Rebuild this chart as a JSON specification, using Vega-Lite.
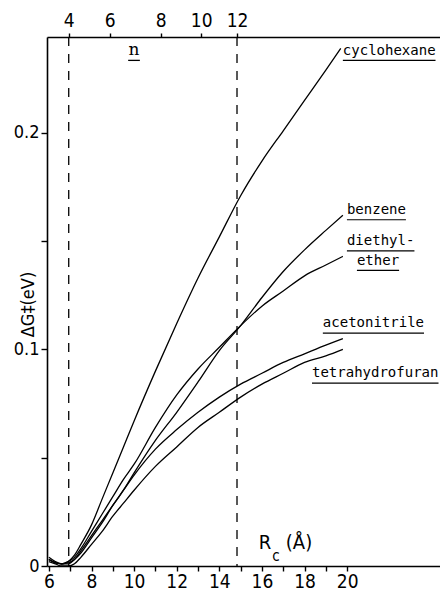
{
  "$schema": "https://vega.github.io/schema/vega-lite/v6.json",
  "width": 393,
  "height": 529,
  "autosize": {"type": "none"},
  "padding": {"left": 47, "top": 37, "right": 0, "bottom": 26},
  "background": "white",
  "config": {
    "view": {"stroke": null},
    "font": "Liberation Sans Narrow, DejaVu Sans Condensed, DejaVu Sans, sans-serif",
    "axis": {
      "grid": false,
      "domainColor": "black",
      "tickColor": "black",
      "labelColor": "black",
      "titleColor": "black",
      "domainWidth": 1.6,
      "tickWidth": 1.4,
      "labelFont": "Liberation Sans Narrow, DejaVu Sans Condensed, DejaVu Sans, sans-serif",
      "titleFont": "Liberation Sans Narrow, DejaVu Sans Condensed, DejaVu Sans, sans-serif",
      "labelFontSize": 19,
      "labelFontWeight": "normal",
      "titleFontWeight": "normal"
    }
  },
  "datasets": {
    "curves": [
      {"s": "cyclohexane", "x": 6.0, "y": 0.004},
      {"s": "cyclohexane", "x": 6.3, "y": 0.002},
      {"s": "cyclohexane", "x": 6.6, "y": 0.001},
      {"s": "cyclohexane", "x": 6.9, "y": 0.002},
      {"s": "cyclohexane", "x": 7.2, "y": 0.005},
      {"s": "cyclohexane", "x": 7.5, "y": 0.010},
      {"s": "cyclohexane", "x": 8.0, "y": 0.019},
      {"s": "cyclohexane", "x": 8.5, "y": 0.031},
      {"s": "cyclohexane", "x": 9.0, "y": 0.043},
      {"s": "cyclohexane", "x": 9.5, "y": 0.055},
      {"s": "cyclohexane", "x": 10.0, "y": 0.067},
      {"s": "cyclohexane", "x": 11.0, "y": 0.090},
      {"s": "cyclohexane", "x": 12.0, "y": 0.112},
      {"s": "cyclohexane", "x": 13.0, "y": 0.133},
      {"s": "cyclohexane", "x": 14.0, "y": 0.152},
      {"s": "cyclohexane", "x": 15.0, "y": 0.171},
      {"s": "cyclohexane", "x": 16.0, "y": 0.187},
      {"s": "cyclohexane", "x": 17.0, "y": 0.201},
      {"s": "cyclohexane", "x": 18.0, "y": 0.215},
      {"s": "cyclohexane", "x": 19.0, "y": 0.229},
      {"s": "cyclohexane", "x": 19.7, "y": 0.239},

      {"s": "benzene", "x": 6.0, "y": 0.003},
      {"s": "benzene", "x": 6.3, "y": 0.0015},
      {"s": "benzene", "x": 6.6, "y": 0.001},
      {"s": "benzene", "x": 6.9, "y": 0.001},
      {"s": "benzene", "x": 7.2, "y": 0.003},
      {"s": "benzene", "x": 7.5, "y": 0.006},
      {"s": "benzene", "x": 8.0, "y": 0.013},
      {"s": "benzene", "x": 8.5, "y": 0.020},
      {"s": "benzene", "x": 9.0, "y": 0.028},
      {"s": "benzene", "x": 9.5, "y": 0.035},
      {"s": "benzene", "x": 10.0, "y": 0.043},
      {"s": "benzene", "x": 11.0, "y": 0.058},
      {"s": "benzene", "x": 12.0, "y": 0.071},
      {"s": "benzene", "x": 13.0, "y": 0.085},
      {"s": "benzene", "x": 14.0, "y": 0.0995},
      {"s": "benzene", "x": 15.0, "y": 0.111},
      {"s": "benzene", "x": 16.0, "y": 0.124},
      {"s": "benzene", "x": 17.0, "y": 0.136},
      {"s": "benzene", "x": 18.0, "y": 0.146},
      {"s": "benzene", "x": 19.0, "y": 0.155},
      {"s": "benzene", "x": 19.8, "y": 0.162},

      {"s": "diethyl-ether", "x": 6.0, "y": 0.003},
      {"s": "diethyl-ether", "x": 6.3, "y": 0.0015},
      {"s": "diethyl-ether", "x": 6.6, "y": 0.001},
      {"s": "diethyl-ether", "x": 6.9, "y": 0.002},
      {"s": "diethyl-ether", "x": 7.2, "y": 0.004},
      {"s": "diethyl-ether", "x": 7.5, "y": 0.008},
      {"s": "diethyl-ether", "x": 8.0, "y": 0.016},
      {"s": "diethyl-ether", "x": 8.5, "y": 0.024},
      {"s": "diethyl-ether", "x": 9.0, "y": 0.032},
      {"s": "diethyl-ether", "x": 9.5, "y": 0.040},
      {"s": "diethyl-ether", "x": 10.0, "y": 0.047},
      {"s": "diethyl-ether", "x": 11.0, "y": 0.064},
      {"s": "diethyl-ether", "x": 12.0, "y": 0.079},
      {"s": "diethyl-ether", "x": 13.0, "y": 0.091},
      {"s": "diethyl-ether", "x": 14.0, "y": 0.101},
      {"s": "diethyl-ether", "x": 15.0, "y": 0.111},
      {"s": "diethyl-ether", "x": 16.0, "y": 0.120},
      {"s": "diethyl-ether", "x": 17.0, "y": 0.127},
      {"s": "diethyl-ether", "x": 18.0, "y": 0.134},
      {"s": "diethyl-ether", "x": 19.0, "y": 0.139},
      {"s": "diethyl-ether", "x": 19.8, "y": 0.143},

      {"s": "acetonitrile", "x": 6.0, "y": 0.003},
      {"s": "acetonitrile", "x": 6.3, "y": 0.0015},
      {"s": "acetonitrile", "x": 6.6, "y": 0.001},
      {"s": "acetonitrile", "x": 6.9, "y": 0.0015},
      {"s": "acetonitrile", "x": 7.2, "y": 0.003},
      {"s": "acetonitrile", "x": 7.5, "y": 0.007},
      {"s": "acetonitrile", "x": 8.0, "y": 0.014},
      {"s": "acetonitrile", "x": 8.5, "y": 0.021},
      {"s": "acetonitrile", "x": 9.0, "y": 0.028},
      {"s": "acetonitrile", "x": 9.5, "y": 0.035},
      {"s": "acetonitrile", "x": 10.0, "y": 0.042},
      {"s": "acetonitrile", "x": 11.0, "y": 0.054},
      {"s": "acetonitrile", "x": 12.0, "y": 0.063},
      {"s": "acetonitrile", "x": 13.0, "y": 0.071},
      {"s": "acetonitrile", "x": 14.0, "y": 0.078},
      {"s": "acetonitrile", "x": 15.0, "y": 0.084},
      {"s": "acetonitrile", "x": 16.0, "y": 0.089},
      {"s": "acetonitrile", "x": 17.0, "y": 0.094},
      {"s": "acetonitrile", "x": 18.0, "y": 0.098},
      {"s": "acetonitrile", "x": 19.0, "y": 0.102},
      {"s": "acetonitrile", "x": 19.8, "y": 0.105},

      {"s": "tetrahydrofuran", "x": 6.0, "y": 0.002},
      {"s": "tetrahydrofuran", "x": 6.3, "y": 0.001},
      {"s": "tetrahydrofuran", "x": 6.6, "y": 0.0},
      {"s": "tetrahydrofuran", "x": 6.9, "y": 0.0},
      {"s": "tetrahydrofuran", "x": 7.2, "y": 0.001},
      {"s": "tetrahydrofuran", "x": 7.5, "y": 0.004},
      {"s": "tetrahydrofuran", "x": 8.0, "y": 0.010},
      {"s": "tetrahydrofuran", "x": 8.5, "y": 0.016},
      {"s": "tetrahydrofuran", "x": 9.0, "y": 0.023},
      {"s": "tetrahydrofuran", "x": 9.5, "y": 0.029},
      {"s": "tetrahydrofuran", "x": 10.0, "y": 0.035},
      {"s": "tetrahydrofuran", "x": 11.0, "y": 0.046},
      {"s": "tetrahydrofuran", "x": 12.0, "y": 0.055},
      {"s": "tetrahydrofuran", "x": 13.0, "y": 0.064},
      {"s": "tetrahydrofuran", "x": 14.0, "y": 0.071},
      {"s": "tetrahydrofuran", "x": 15.0, "y": 0.078},
      {"s": "tetrahydrofuran", "x": 16.0, "y": 0.084},
      {"s": "tetrahydrofuran", "x": 17.0, "y": 0.089},
      {"s": "tetrahydrofuran", "x": 18.0, "y": 0.094},
      {"s": "tetrahydrofuran", "x": 19.0, "y": 0.097},
      {"s": "tetrahydrofuran", "x": 19.8, "y": 0.100}
    ],
    "nlines": [
      {"n": 4, "Rc": 6.93},
      {"n": 12, "Rc": 14.83}
    ],
    "labels": [
      {"label": "cyclohexane", "x": 19.8, "y": 0.238, "x2": 24.15, "yu": 0.2335},
      {"label": "benzene", "x": 19.99, "y": 0.1644, "x2": 22.76, "yu": 0.1599},
      {"label": "diethyl-", "x": 19.99, "y": 0.150, "x2": 23.16, "yu": 0.1455},
      {"label": "ether", "x": 20.46, "y": 0.141, "x2": 22.44, "yu": 0.1365},
      {"label": "acetonitrile", "x": 18.86, "y": 0.112, "x2": 23.61, "yu": 0.1075},
      {"label": "tetrahydrofuran", "x": 18.35, "y": 0.089, "x2": 24.29, "yu": 0.0845}
    ],
    "nlabel": [
      {"label": "n", "x": 9.99, "y": 0.2385, "x1": 9.72, "x2": 10.27, "yu": 0.2335}
    ],
    "rlabel": [
      {"t": "R", "x": 16.14, "y": 0.0106},
      {"t": "(Å)", "x": 17.74, "y": 0.0106}
    ],
    "rsub": [
      {"t": "c", "x": 16.66, "y": 0.0045}
    ]
  },
  "layer": [
    {
      "data": {"name": "curves"},
      "mark": {"type": "line", "interpolate": "monotone", "color": "black", "strokeWidth": 1.3, "clip": true},
      "encoding": {
        "x": {
          "field": "x", "type": "quantitative",
          "scale": {"domain": [5.91, 24.36], "nice": false, "zero": false},
          "axis": {
            "orient": "bottom",
            "values": [6, 7, 8, 9, 10, 11, 12, 13, 14, 15, 16, 17, 18, 19, 20],
            "labelExpr": "datum.value % 2 == 0 ? datum.label : ''",
            "tickSize": 5, "labelPadding": 1, "title": null,
            "labelFlush": false, "labelOverlap": false
          }
        },
        "y": {
          "field": "y", "type": "quantitative",
          "scale": {"domain": [0, 0.2443], "nice": false},
          "axis": {
            "values": [0, 0.05, 0.1, 0.15, 0.2],
            "labelExpr": "datum.value == 0 ? '0' : (abs(datum.value - 0.1) < 0.001 ? '0.1' : (abs(datum.value - 0.2) < 0.001 ? '0.2' : ''))",
            "tickSize": 6, "labelPadding": 2, "labelFontSize": 18,
            "labelFlush": false, "labelOverlap": false,
            "title": "ΔG‡(eV)", "titleFontSize": 18,
            "titleAngle": 270, "titleX": -19, "titleY": 267,
            "titleAlign": "center", "titleBaseline": "middle"
          }
        },
        "detail": {"field": "s"}
      }
    },
    {
      "data": {"name": "nlines"},
      "mark": {"type": "rule", "strokeDash": [9, 8], "color": "black", "strokeWidth": 1.3},
      "encoding": {
        "x": {
          "field": "Rc", "type": "quantitative",
          "scale": {"domain": [5.91, 24.36], "nice": false, "zero": false},
          "axis": {
            "orient": "top",
            "values": [6.93, 8.85, 11.25, 13.15, 14.83],
            "labelExpr": "datum.value < 8 ? '4' : (datum.value < 10 ? '6' : (datum.value < 12 ? '8' : (datum.value < 14 ? '10' : '12')))",
            "tickSize": 4, "labelPadding": 3, "title": null,
            "labelFlush": false, "labelOverlap": false
          }
        }
      }
    },
    {
      "data": {"name": "labels"},
      "mark": {"type": "text", "align": "left", "baseline": "middle", "font": "DejaVu Sans Mono", "fontSize": 14, "color": "black"},
      "encoding": {
        "x": {"field": "x", "type": "quantitative", "scale": {"domain": [5.91, 24.36], "nice": false, "zero": false}, "axis": null},
        "y": {"field": "y", "type": "quantitative", "scale": {"domain": [0, 0.2443], "nice": false}, "axis": null},
        "text": {"field": "label"}
      }
    },
    {
      "data": {"name": "labels"},
      "mark": {"type": "rule", "color": "black", "strokeWidth": 1.2},
      "encoding": {
        "x": {"field": "x", "type": "quantitative", "scale": {"domain": [5.91, 24.36], "nice": false, "zero": false}, "axis": null},
        "x2": {"field": "x2"},
        "y": {"field": "yu", "type": "quantitative", "scale": {"domain": [0, 0.2443], "nice": false}, "axis": null}
      }
    },
    {
      "data": {"name": "nlabel"},
      "mark": {"type": "text", "align": "center", "baseline": "middle", "font": "DejaVu Serif", "fontSize": 17, "color": "black"},
      "encoding": {
        "x": {"field": "x", "type": "quantitative", "scale": {"domain": [5.91, 24.36], "nice": false, "zero": false}, "axis": null},
        "y": {"field": "y", "type": "quantitative", "scale": {"domain": [0, 0.2443], "nice": false}, "axis": null},
        "text": {"field": "label"}
      }
    },
    {
      "data": {"name": "nlabel"},
      "mark": {"type": "rule", "color": "black", "strokeWidth": 1.3},
      "encoding": {
        "x": {"field": "x1", "type": "quantitative", "scale": {"domain": [5.91, 24.36], "nice": false, "zero": false}, "axis": null},
        "x2": {"field": "x2"},
        "y": {"field": "yu", "type": "quantitative", "scale": {"domain": [0, 0.2443], "nice": false}, "axis": null}
      }
    },
    {
      "data": {"name": "rlabel"},
      "mark": {"type": "text", "align": "center", "baseline": "middle", "fontSize": 20, "color": "black"},
      "encoding": {
        "x": {"field": "x", "type": "quantitative", "scale": {"domain": [5.91, 24.36], "nice": false, "zero": false}, "axis": null},
        "y": {"field": "y", "type": "quantitative", "scale": {"domain": [0, 0.2443], "nice": false}, "axis": null},
        "text": {"field": "t"}
      }
    },
    {
      "data": {"name": "rsub"},
      "mark": {"type": "text", "align": "center", "baseline": "middle", "fontSize": 15, "color": "black"},
      "encoding": {
        "x": {"field": "x", "type": "quantitative", "scale": {"domain": [5.91, 24.36], "nice": false, "zero": false}, "axis": null},
        "y": {"field": "y", "type": "quantitative", "scale": {"domain": [0, 0.2443], "nice": false}, "axis": null},
        "text": {"field": "t"}
      }
    }
  ],
  "resolve": {"axis": {"x": "independent", "y": "independent"}}
}
